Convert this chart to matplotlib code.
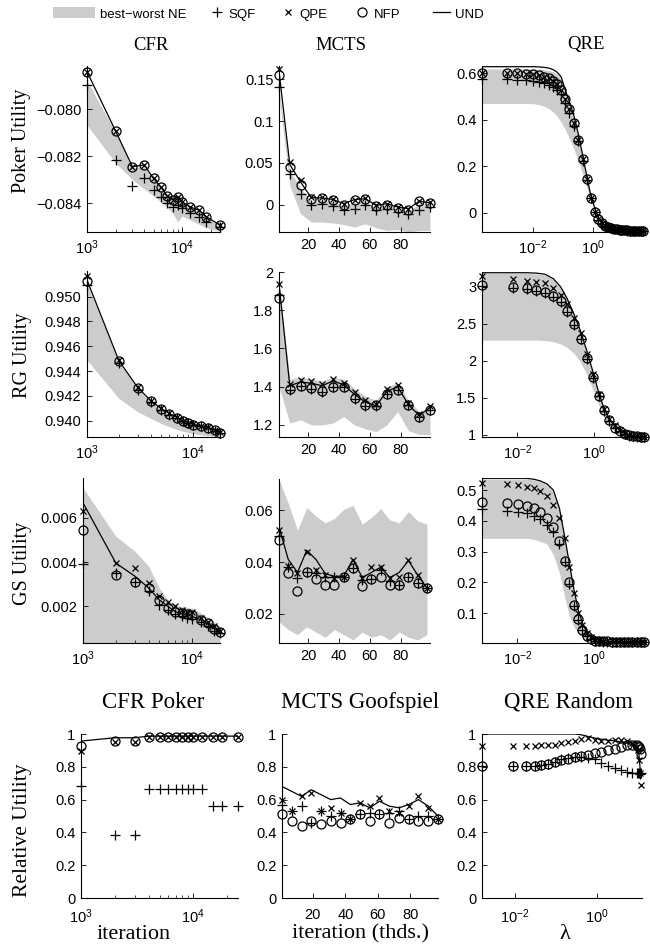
import matplotlib
matplotlib.use("Agg")
import matplotlib.pyplot as plt
from matplotlib.patches import Patch
from matplotlib.lines import Line2D
from matplotlib.ticker import FixedLocator, LogLocator, NullLocator, NullFormatter

plt.rcParams['font.family'] = ['Liberation Sans', 'DejaVu Sans']
plt.rcParams['mathtext.default'] = 'regular'

# ---------------- data ----------------
# CFR iterations
cfr_poker_iters = [1000, 2000, 3000, 4000, 5000, 6000, 7000, 8000, 9000, 10000, 12000, 15000, 18000, 25000]
cfr_other_iters = [1000, 2000, 3000, 4000, 5000, 6000, 7000, 8000, 9000, 10000, 12000, 14000, 16000, 18000]
# MCTS iterations (thousands)
mcts_iters_a = [1, 8, 15, 22, 29, 36, 43, 50, 57, 64, 71, 78, 85, 92, 99]
mcts_iters_b = [1, 7, 13, 19, 25, 31, 37, 43, 49, 55, 61, 67, 73, 79, 85, 91, 97]
# QRE lambdas
qre_lam_poker = [0.0002, 0.00135, 0.00295, 0.00575, 0.01, 0.0158, 0.0234, 0.0331, 0.0468, 0.0631,
                 0.0851, 0.115, 0.158, 0.229, 0.316, 0.437, 0.603, 0.813, 1.15, 1.48, 1.91, 2.4,
                 3.02, 3.8, 4.79, 6.03, 7.41, 9.12, 11.0, 13.5, 16.6, 20.4, 25.1, 30.9, 38.0, 45.7]
qre_lam_rg = [0.00123, 0.0079, 0.0174, 0.0316, 0.0525, 0.0871, 0.135, 0.2, 0.302, 0.447, 0.676,
              0.955, 1.35, 1.82, 2.51, 3.55, 4.79, 6.31, 8.32, 10.7, 13.5, 17.0, 20.4]
qre_lam_gs = [0.00123, 0.0055, 0.0107, 0.0174, 0.0269, 0.0389, 0.0589, 0.0871, 0.126, 0.174, 0.229,
              0.302, 0.389, 0.501, 0.646, 0.813, 1.07, 1.38, 1.74, 2.24, 2.88, 3.72, 4.79, 6.03,
              7.94, 10.0, 12.9, 16.6, 20.4]
qre_lam_rand = [0.0016, 0.0091, 0.019, 0.031, 0.045, 0.065, 0.095, 0.138, 0.2, 0.295, 0.427, 0.617,
                0.91, 1.32, 1.95, 2.82, 4.07, 5.5, 7.2, 9.5, 10.5, 11.0, 11.5, 12.0]

# Row 1: Poker utility, CFR
cfr_poker_und = [-0.07841, -0.08094, -0.08245, -0.08238, -0.08295, -0.08333, -0.08369, -0.08385, -0.08373, -0.08394, -0.08416, -0.08430, -0.08458, -0.08494]
cfr_poker_qpe = [-0.07841, -0.08094, -0.08245, -0.08238, -0.08295, -0.08333, -0.08369, -0.08385, -0.08373, -0.08394, -0.08416, -0.08430, -0.08458, -0.08494]
cfr_poker_nfp = [-0.07841, -0.08094, -0.08245, -0.08238, -0.08295, -0.08333, -0.08369, -0.08385, -0.08373, -0.08394, -0.08416, -0.08430, -0.08458, -0.08494]
cfr_poker_sqf = [-0.07898, -0.08217, -0.08328, -0.08295, -0.08345, -0.08373, -0.08400, -0.08416, -0.08408, -0.08421, -0.08443, -0.08458, -0.08480, -0.08501]
cfr_poker_best = [-0.07880, -0.08100, -0.08250, -0.08245, -0.08300, -0.08338, -0.08372, -0.08390, -0.08378, -0.08398, -0.08420, -0.08434, -0.08462, -0.08497]
cfr_poker_worst = [-0.08068, -0.08230, -0.08300, -0.08340, -0.08370, -0.08395, -0.08420, -0.08445, -0.08480, -0.08455, -0.08470, -0.08490, -0.08505, -0.08520]

# Row 1: Poker utility, MCTS
mcts_poker_und = [0.160, 0.048, 0.027, 0.008, 0.008, 0.006, 0.001, 0.006, 0.007, -0.001, 0.001, -0.003, -0.005, 0.004, 0.002]
mcts_poker_qpe = [0.163, 0.051, 0.029, 0.009, 0.009, 0.007, 0.001, 0.006, 0.008, -0.001, 0.001, -0.003, -0.005, 0.004, 0.003]
mcts_poker_nfp = [0.155, 0.045, 0.024, 0.007, 0.008, 0.006, 0.000, 0.006, 0.007, -0.002, 0.000, -0.004, -0.006, 0.004, 0.002]
mcts_poker_sqf = [0.141, 0.037, 0.013, 0.000, 0.001, -0.002, -0.006, -0.005, -0.001, -0.006, -0.005, -0.009, -0.011, -0.006, -0.003]
mcts_poker_best = [0.140, 0.040, 0.020, 0.004, 0.005, 0.003, -0.002, 0.003, 0.004, -0.004, -0.002, -0.006, -0.008, 0.001, 0.000]
mcts_poker_worst = [0.130, 0.023, -0.011, -0.021, -0.021, -0.022, -0.024, -0.027, -0.023, -0.028, -0.031, -0.030, -0.033, -0.031, -0.031]

# Row 1: Poker utility, QRE
qre_poker_und = [0.628, 0.628, 0.628, 0.628, 0.628, 0.627, 0.625, 0.622, 0.615, 0.604, 0.585, 0.530, 0.480, 0.415, 0.340, 0.250, 0.160, 0.078, 0.015, -0.020, -0.040, -0.051, -0.058, -0.063, -0.067, -0.069, -0.071, -0.073, -0.075, -0.076, -0.077, -0.078, -0.079, -0.079, -0.080, -0.080]
qre_poker_qpe = [0.602, 0.602, 0.600, 0.598, 0.595, 0.591, 0.585, 0.578, 0.567, 0.552, 0.530, 0.490, 0.445, 0.385, 0.315, 0.230, 0.145, 0.065, 0.005, -0.028, -0.045, -0.055, -0.061, -0.065, -0.068, -0.070, -0.072, -0.073, -0.074, -0.075, -0.076, -0.077, -0.077, -0.078, -0.078, -0.078]
qre_poker_nfp = [0.602, 0.602, 0.600, 0.598, 0.595, 0.591, 0.585, 0.578, 0.567, 0.552, 0.530, 0.490, 0.445, 0.385, 0.315, 0.230, 0.145, 0.065, 0.005, -0.028, -0.045, -0.055, -0.061, -0.065, -0.068, -0.070, -0.072, -0.073, -0.074, -0.075, -0.076, -0.077, -0.077, -0.078, -0.078, -0.078]
qre_poker_sqf = [0.575, 0.575, 0.572, 0.570, 0.566, 0.562, 0.556, 0.550, 0.540, 0.528, 0.510, 0.472, 0.428, 0.372, 0.308, 0.225, 0.142, 0.062, 0.003, -0.029, -0.046, -0.056, -0.062, -0.066, -0.069, -0.071, -0.073, -0.074, -0.075, -0.076, -0.077, -0.077, -0.078, -0.078, -0.079, -0.079]
qre_poker_best = [0.618, 0.618, 0.618, 0.618, 0.618, 0.617, 0.615, 0.612, 0.606, 0.596, 0.578, 0.525, 0.475, 0.410, 0.335, 0.245, 0.155, 0.075, 0.012, -0.022, -0.041, -0.052, -0.059, -0.064, -0.068, -0.070, -0.072, -0.074, -0.075, -0.076, -0.077, -0.078, -0.079, -0.079, -0.080, -0.080]
qre_poker_worst = [0.470, 0.470, 0.470, 0.470, 0.469, 0.465, 0.458, 0.448, 0.433, 0.415, 0.390, 0.360, 0.322, 0.272, 0.222, 0.168, 0.110, 0.055, 0.003, -0.030, -0.052, -0.065, -0.072, -0.076, -0.078, -0.079, -0.080, -0.080, -0.081, -0.081, -0.081, -0.081, -0.081, -0.081, -0.081, -0.081]

# Row 2: RG utility, CFR
cfr_rg_und = [0.95134, 0.94484, 0.94269, 0.94161, 0.94099, 0.94059, 0.94027, 0.94000, 0.93984, 0.93970, 0.93960, 0.93945, 0.93925, 0.93905]
cfr_rg_qpe = [0.95167, 0.94490, 0.94272, 0.94163, 0.94100, 0.94060, 0.94028, 0.94001, 0.93985, 0.93971, 0.93960, 0.93946, 0.93926, 0.93906]
cfr_rg_nfp = [0.95125, 0.94478, 0.94265, 0.94158, 0.94096, 0.94056, 0.94025, 0.93998, 0.93982, 0.93968, 0.93958, 0.93944, 0.93924, 0.93904]
cfr_rg_sqf = [0.95094, 0.94462, 0.94250, 0.94148, 0.94090, 0.94050, 0.94020, 0.93994, 0.93978, 0.93965, 0.93955, 0.93941, 0.93921, 0.93901]
cfr_rg_best = [0.95108, 0.94470, 0.94258, 0.94152, 0.94092, 0.94052, 0.94021, 0.93995, 0.93979, 0.93966, 0.93956, 0.93942, 0.93922, 0.93902]
cfr_rg_worst = [0.94489, 0.94180, 0.94073, 0.94019, 0.93978, 0.93952, 0.93930, 0.93915, 0.93905, 0.93895, 0.93885, 0.93878, 0.93874, 0.93870]

# Row 2: RG utility, MCTS
mcts_rg_und = [1.940, 1.405, 1.425, 1.418, 1.405, 1.430, 1.410, 1.360, 1.320, 1.300, 1.375, 1.400, 1.305, 1.250, 1.290]
mcts_rg_qpe = [1.939, 1.414, 1.436, 1.428, 1.415, 1.440, 1.419, 1.370, 1.328, 1.310, 1.387, 1.410, 1.314, 1.258, 1.300]
mcts_rg_nfp = [1.864, 1.387, 1.405, 1.393, 1.375, 1.401, 1.401, 1.340, 1.305, 1.305, 1.363, 1.384, 1.305, 1.244, 1.279]
mcts_rg_sqf = [1.880, 1.385, 1.403, 1.390, 1.372, 1.398, 1.400, 1.338, 1.300, 1.300, 1.360, 1.382, 1.302, 1.240, 1.276]
mcts_rg_best = [1.940, 1.440, 1.450, 1.440, 1.430, 1.450, 1.440, 1.390, 1.350, 1.330, 1.400, 1.420, 1.330, 1.270, 1.290]
mcts_rg_worst = [1.400, 1.210, 1.227, 1.200, 1.200, 1.210, 1.244, 1.200, 1.180, 1.165, 1.200, 1.270, 1.170, 1.150, 1.150]

# Row 2: RG utility, QRE
qre_rg_und = [3.19, 3.19, 3.19, 3.185, 3.17, 3.11, 3.00, 2.84, 2.63, 2.40, 2.11, 1.84, 1.56, 1.36, 1.22, 1.12, 1.06, 1.03, 1.00, 0.99, 0.98, 0.975, 0.97]
qre_rg_qpe = [3.14, 3.10, 3.08, 3.07, 3.05, 2.99, 2.89, 2.77, 2.58, 2.37, 2.09, 1.83, 1.55, 1.35, 1.22, 1.13, 1.07, 1.03, 1.00, 0.99, 0.985, 0.98, 0.975]
qre_rg_nfp = [3.02, 3.00, 2.98, 2.96, 2.93, 2.87, 2.81, 2.67, 2.50, 2.30, 2.04, 1.78, 1.53, 1.34, 1.20, 1.10, 1.05, 1.02, 0.995, 0.985, 0.98, 0.975, 0.97]
qre_rg_sqf = [3.01, 2.99, 2.97, 2.95, 2.92, 2.86, 2.80, 2.66, 2.49, 2.29, 2.03, 1.77, 1.52, 1.33, 1.19, 1.10, 1.05, 1.02, 0.99, 0.98, 0.975, 0.97, 0.97]
qre_rg_best = [3.18, 3.18, 3.18, 3.175, 3.16, 3.10, 2.99, 2.83, 2.62, 2.39, 2.10, 1.83, 1.55, 1.35, 1.21, 1.11, 1.05, 1.02, 0.99, 0.985, 0.978, 0.973, 0.97]
qre_rg_worst = [2.28, 2.28, 2.28, 2.28, 2.275, 2.26, 2.23, 2.18, 2.10, 1.98, 1.80, 1.60, 1.40, 1.24, 1.12, 1.04, 1.00, 0.98, 0.975, 0.972, 0.97, 0.97, 0.97]

# Row 3: GS utility, CFR
cfr_gs_und = [0.00668, 0.00396, 0.00336, 0.00283, 0.00230, 0.00200, 0.00177, 0.00167, 0.00162, 0.00155, 0.00140, 0.00120, 0.00100, 0.00085]
cfr_gs_qpe = [0.00630, 0.00396, 0.00374, 0.00306, 0.00245, 0.00218, 0.00200, 0.00185, 0.00177, 0.00173, 0.00150, 0.00130, 0.00110, 0.00090]
cfr_gs_nfp = [0.00547, 0.00343, 0.00309, 0.00283, 0.00230, 0.00192, 0.00173, 0.00170, 0.00167, 0.00162, 0.00140, 0.00125, 0.00100, 0.00085]
cfr_gs_sqf = [0.00393, 0.00351, 0.00309, 0.00268, 0.00208, 0.00182, 0.00167, 0.00155, 0.00147, 0.00143, 0.00130, 0.00110, 0.00090, 0.00080]
cfr_gs_best = [0.00736, 0.00517, 0.00449, 0.00381, 0.00283, 0.00230, 0.00208, 0.00200, 0.00196, 0.00192, 0.00170, 0.00150, 0.00130, 0.00110]
cfr_gs_worst = [0.00035, 0.00035, 0.00035, 0.00035, 0.00035, 0.00035, 0.00035, 0.00035, 0.00035, 0.00035, 0.00035, 0.00035, 0.00035, 0.00035]

# Row 3: GS utility, MCTS
mcts_gs_und = [0.0535, 0.0410, 0.0360, 0.0445, 0.0410, 0.0355, 0.0345, 0.0345, 0.0410, 0.0340, 0.0360, 0.0380, 0.0340, 0.0360, 0.0405, 0.0350, 0.0300]
mcts_gs_qpe = [0.0523, 0.0385, 0.0359, 0.0440, 0.0369, 0.0350, 0.0337, 0.0344, 0.0408, 0.0337, 0.0382, 0.0379, 0.0337, 0.0344, 0.0408, 0.0350, 0.0300]
mcts_gs_nfp = [0.0485, 0.0356, 0.0288, 0.0363, 0.0333, 0.0312, 0.0312, 0.0344, 0.0376, 0.0308, 0.0335, 0.0341, 0.0312, 0.0312, 0.0344, 0.0318, 0.0299]
mcts_gs_sqf = [0.0500, 0.0382, 0.0337, 0.0363, 0.0356, 0.0344, 0.0344, 0.0344, 0.0376, 0.0330, 0.0335, 0.0370, 0.0325, 0.0312, 0.0344, 0.0318, 0.0299]
mcts_gs_best = [0.0718, 0.0626, 0.0523, 0.0610, 0.0577, 0.0551, 0.0568, 0.0603, 0.0619, 0.0546, 0.0572, 0.0606, 0.0562, 0.0551, 0.0594, 0.0559, 0.0546]
mcts_gs_worst = [0.017, 0.014, 0.012, 0.015, 0.013, 0.011, 0.014, 0.012, 0.010, 0.013, 0.011, 0.012, 0.010, 0.013, 0.011, 0.010, 0.012]

# Row 3: GS utility, QRE
qre_gs_und = [0.538, 0.538, 0.538, 0.538, 0.535, 0.530, 0.520, 0.500, 0.440, 0.345, 0.260, 0.175, 0.110, 0.068, 0.040, 0.024, 0.016, 0.012, 0.010, 0.009, 0.008, 0.008, 0.007, 0.007, 0.007, 0.007, 0.007, 0.007, 0.007]
qre_gs_qpe = [0.522, 0.519, 0.516, 0.511, 0.505, 0.498, 0.481, 0.451, 0.408, 0.343, 0.251, 0.165, 0.100, 0.062, 0.035, 0.022, 0.015, 0.012, 0.010, 0.009, 0.008, 0.008, 0.008, 0.007, 0.007, 0.007, 0.007, 0.007, 0.007]
qre_gs_nfp = [0.462, 0.459, 0.455, 0.448, 0.441, 0.430, 0.410, 0.381, 0.335, 0.270, 0.200, 0.127, 0.080, 0.045, 0.026, 0.016, 0.011, 0.009, 0.008, 0.008, 0.007, 0.007, 0.007, 0.007, 0.007, 0.007, 0.007, 0.007, 0.007]
qre_gs_sqf = [0.437, 0.433, 0.430, 0.424, 0.416, 0.405, 0.386, 0.365, 0.325, 0.265, 0.195, 0.124, 0.078, 0.044, 0.025, 0.015, 0.010, 0.008, 0.007, 0.007, 0.007, 0.007, 0.007, 0.007, 0.007, 0.007, 0.007, 0.007, 0.007]
qre_gs_best = [0.536, 0.536, 0.536, 0.536, 0.533, 0.528, 0.517, 0.496, 0.435, 0.340, 0.255, 0.170, 0.107, 0.066, 0.039, 0.023, 0.015, 0.011, 0.009, 0.008, 0.007, 0.007, 0.006, 0.006, 0.006, 0.006, 0.006, 0.006, 0.006]
qre_gs_worst = [0.343, 0.343, 0.343, 0.343, 0.340, 0.333, 0.325, 0.290, 0.230, 0.150, 0.090, 0.055, 0.035, 0.020, 0.012, 0.008, 0.006, 0.005, 0.005, 0.005, 0.005, 0.005, 0.005, 0.005, 0.005, 0.005, 0.005, 0.005, 0.005]

# Row 4: relative utility
rel_cfr_und = [0.957, 0.977, 0.977, 0.987, 0.987, 0.987, 0.987, 0.987, 0.987, 0.987, 0.987, 0.987, 0.987, 0.987]
rel_cfr_qpe = [0.896, 0.950, 0.950, 0.980, 0.980, 0.980, 0.980, 0.980, 0.980, 0.980, 0.980, 0.980, 0.980, 0.980]
rel_cfr_nfp = [0.925, 0.960, 0.960, 0.980, 0.980, 0.980, 0.980, 0.980, 0.980, 0.980, 0.980, 0.980, 0.980, 0.980]
rel_cfr_sqf = [0.683, 0.384, 0.384, 0.665, 0.665, 0.665, 0.665, 0.665, 0.665, 0.665, 0.665, 0.563, 0.563, 0.563]

rel_mcts_und = [0.68, 0.65, 0.62, 0.66, 0.63, 0.60, 0.61, 0.57, 0.58, 0.55, 0.59, 0.56, 0.55, 0.57, 0.60, 0.56, 0.50]
rel_mcts_qpe = [0.60, 0.53, 0.62, 0.64, 0.53, 0.55, 0.52, 0.48, 0.58, 0.56, 0.61, 0.53, 0.52, 0.56, 0.62, 0.55, 0.48]
rel_mcts_nfp = [0.51, 0.47, 0.44, 0.47, 0.45, 0.47, 0.46, 0.48, 0.51, 0.47, 0.51, 0.46, 0.49, 0.48, 0.47, 0.47, 0.48]
rel_mcts_sqf = [0.57, 0.53, 0.56, 0.46, 0.53, 0.50, 0.52, 0.48, 0.51, 0.52, 0.51, 0.52, 0.53, 0.48, 0.50, 0.50, 0.48]

rel_qre_und = [1.0, 1.0, 1.0, 1.0, 1.0, 1.0, 1.0, 1.0, 1.0, 1.0, 0.995, 0.985, 0.975, 0.968, 0.962, 0.958, 0.952, 0.945, 0.935, 0.920, 0.900, 0.860, 0.800, 0.760]
rel_qre_qpe = [0.929, 0.929, 0.929, 0.929, 0.930, 0.932, 0.935, 0.943, 0.950, 0.960, 0.967, 0.975, 0.965, 0.960, 0.960, 0.963, 0.963, 0.955, 0.945, 0.920, 0.900, 0.840, 0.760, 0.690]
rel_qre_nfp = [0.807, 0.807, 0.807, 0.807, 0.811, 0.819, 0.827, 0.839, 0.850, 0.860, 0.868, 0.874, 0.884, 0.890, 0.900, 0.910, 0.920, 0.930, 0.933, 0.930, 0.925, 0.920, 0.910, 0.880]
rel_qre_sqf = [0.807, 0.807, 0.807, 0.807, 0.811, 0.819, 0.832, 0.845, 0.855, 0.862, 0.862, 0.855, 0.845, 0.825, 0.805, 0.790, 0.780, 0.770, 0.765, 0.760, 0.760, 0.760, 0.755, 0.760]

legend_labels = ['best\u2212worst NE', 'SQF', 'QPE', 'NFP', 'UND']
col_titles = ['CFR', 'MCTS', 'QRE']
row_labels = ['Poker Utility', 'RG Utility', 'GS Utility']
bottom_titles = ['CFR Poker', 'MCTS Goofspiel', 'QRE Random']
bottom_xlabels = ['iteration', 'iteration (thds.)', '\u03bb']

# ---------------- drawing ----------------
GRAY = '#cccccc'
W, H = 650, 947
fig = plt.figure(figsize=(W / 100, H / 100), dpi=100)
SERIF = ['Liberation Serif', 'DejaVu Serif']


def add_ax(x0, ytop, x1, ybot):
    return fig.add_axes([x0 / W, 1 - ybot / H, (x1 - x0) / W, (ybot - ytop) / H])


def style(ax, xpad=4.5):
    ax.spines['top'].set_visible(False)
    ax.spines['right'].set_visible(False)
    for s in ('left', 'bottom'):
        ax.spines[s].set_linewidth(0.8)
        ax.spines[s].set_zorder(5)
    ax.tick_params(which='major', direction='in', length=3.5, width=0.6, labelsize=10.5, pad=4)
    ax.tick_params(axis='x', which='major', pad=xpad)
    ax.tick_params(which='minor', direction='in', length=2, width=0.5)
    ax.patch.set_alpha(0)


def draw(ax, x, und, sqf, qpe, nfp, best=None, worst=None):
    if best is not None:
        ax.fill_between(x, worst, best, color=GRAY, lw=0, zorder=1)
    ax.plot(x, und, '-', color='k', lw=0.9, zorder=3)
    ax.plot(x, sqf, ls='none', marker='+', ms=7, mew=0.9, color='k', zorder=4, clip_on=False)
    ax.plot(x, qpe, ls='none', marker='x', ms=5, mew=0.9, color='k', zorder=4, clip_on=False)
    ax.plot(x, nfp, ls='none', marker='o', ms=6.5, mew=0.9, mfc='none', mec='k', zorder=4, clip_on=False)


def cfr_x(ax, xmax):
    ax.set_xscale('log')
    ax.set_xlim(1000, xmax)
    ax.xaxis.set_major_locator(FixedLocator([1e3, 1e4]))
    ax.xaxis.set_minor_locator(LogLocator(base=10, subs=(2, 3, 4, 5, 6, 7, 8, 9)))
    ax.xaxis.set_minor_formatter(NullFormatter())


def qre_x(ax, xmin, xmax):
    ax.set_xscale('log')
    ax.set_xlim(xmin, xmax)
    ax.xaxis.set_major_locator(FixedLocator([1e-2, 1e0]))
    ax.xaxis.set_minor_locator(NullLocator())


def mcts_x(ax, xmin, xmax):
    ax.set_xlim(xmin, xmax)
    ax.set_xticks([20, 40, 60, 80])
    ax.set_xticklabels(['20', '40', '60', '80'])


def yt(ax, ticks, labels, lim):
    ax.set_ylim(*lim)
    ax.set_yticks(ticks)
    ax.set_yticklabels(labels)


# Row 1
ax = add_ax(87, 66, 220, 232); style(ax)
draw(ax, cfr_poker_iters, cfr_poker_und, cfr_poker_sqf, cfr_poker_qpe, cfr_poker_nfp, cfr_poker_best, cfr_poker_worst)
cfr_x(ax, 25000)
yt(ax, [-0.084, -0.082, -0.080], ['\u22120.084', '\u22120.082', '\u22120.080'], (-0.08523, -0.07817))

ax = add_ax(279, 66, 430, 232); style(ax)
draw(ax, mcts_iters_a, mcts_poker_und, mcts_poker_sqf, mcts_poker_qpe, mcts_poker_nfp, mcts_poker_best, mcts_poker_worst)
mcts_x(ax, 1, 99)
yt(ax, [0, 0.05, 0.1, 0.15], ['0', '0.05', '0.1', '0.15'], (-0.0329, 0.166))

ax = add_ax(482, 66, 645, 232); style(ax)
draw(ax, qre_lam_poker, qre_poker_und, qre_poker_sqf, qre_poker_qpe, qre_poker_nfp, qre_poker_best, qre_poker_worst)
qre_x(ax, 0.0002, 52)
yt(ax, [0, 0.2, 0.4, 0.6], ['0', '0.2', '0.4', '0.6'], (-0.082, 0.631))

# Row 2
ax = add_ax(87, 271, 220, 437); style(ax)
draw(ax, cfr_other_iters, cfr_rg_und, cfr_rg_sqf, cfr_rg_qpe, cfr_rg_nfp, cfr_rg_best, cfr_rg_worst)
cfr_x(ax, 18000)
yt(ax, [0.940, 0.942, 0.944, 0.946, 0.948, 0.950],
   ['0.940', '0.942', '0.944', '0.946', '0.948', '0.950'], (0.93869, 0.95207))

ax = add_ax(279, 272, 430, 437); style(ax)
draw(ax, mcts_iters_a, mcts_rg_und, mcts_rg_sqf, mcts_rg_qpe, mcts_rg_nfp, mcts_rg_best, mcts_rg_worst)
mcts_x(ax, 1, 99)
yt(ax, [1.2, 1.4, 1.6, 1.8, 2.0], ['1.2', '1.4', '1.6', '1.8', '2'], (1.137, 2.0))

ax = add_ax(482, 272, 645, 437); style(ax)
draw(ax, qre_lam_rg, qre_rg_und, qre_rg_sqf, qre_rg_qpe, qre_rg_nfp, qre_rg_best, qre_rg_worst)
qre_x(ax, 0.0012, 21.4)
yt(ax, [1, 1.5, 2, 2.5, 3], ['1', '1.5', '2', '2.5', '3'], (0.973, 3.2))

# Row 3
ax = add_ax(83, 478, 220, 643); style(ax)
draw(ax, cfr_other_iters, cfr_gs_und, cfr_gs_sqf, cfr_gs_qpe, cfr_gs_nfp, cfr_gs_best, cfr_gs_worst)
cfr_x(ax, 18000)
yt(ax, [0.002, 0.004, 0.006], ['0.002', '0.004', '0.006'], (0.00035, 0.0078))

ax = add_ax(279, 479, 430, 643); style(ax)
draw(ax, mcts_iters_b, mcts_gs_und, mcts_gs_sqf, mcts_gs_qpe, mcts_gs_nfp, mcts_gs_best, mcts_gs_worst)
mcts_x(ax, 1, 99)
yt(ax, [0.02, 0.04, 0.06], ['0.02', '0.04', '0.06'], (0.0088, 0.072))

ax = add_ax(482, 478, 645, 643); style(ax)
draw(ax, qre_lam_gs, qre_gs_und, qre_gs_sqf, qre_gs_qpe, qre_gs_nfp, qre_gs_best, qre_gs_worst)
qre_x(ax, 0.0012, 21.4)
yt(ax, [0.1, 0.2, 0.3, 0.4, 0.5], ['0.1', '0.2', '0.3', '0.4', '0.5'], (0.003, 0.539))

# Row 4
rel_ticks = [0, 0.2, 0.4, 0.6, 0.8, 1.0]
rel_labels = ['0', '0.2', '0.4', '0.6', '0.8', '1']
ax = add_ax(81, 734, 238, 898); style(ax, xpad=7)
draw(ax, cfr_poker_iters, rel_cfr_und, rel_cfr_sqf, rel_cfr_qpe, rel_cfr_nfp)
cfr_x(ax, 25000)
yt(ax, rel_ticks, rel_labels, (0, 1))

ax = add_ax(282, 734, 438, 898); style(ax, xpad=7)
draw(ax, mcts_iters_b, rel_mcts_und, rel_mcts_sqf, rel_mcts_qpe, rel_mcts_nfp)
mcts_x(ax, 1, 97)
yt(ax, rel_ticks, rel_labels, (0, 1))

ax = add_ax(482, 734, 642, 898); style(ax, xpad=7)
draw(ax, qre_lam_rand, rel_qre_und, rel_qre_sqf, rel_qre_qpe, rel_qre_nfp)
qre_x(ax, 0.0016, 12.9)
yt(ax, rel_ticks, rel_labels, (0, 1))

# titles and labels
for t, xc in zip(col_titles, [151, 341, 586]):
    fig.text(xc / W, 1 - 45 / H, t, ha='center', va='center', fontsize=13.5, family=SERIF)
for t, yc in zip(row_labels, [141, 355, 563]):
    fig.text(22 / W, 1 - yc / H, t, ha='center', va='center', rotation=90, fontsize=14.5, family=SERIF)
fig.text(23 / W, 1 - 830 / H, 'Relative Utility', ha='center', va='center', rotation=90, fontsize=15.5, family=SERIF)
for t, xc in zip(bottom_titles, [153, 360, 568]):
    fig.text(xc / W, 1 - 702 / H, t, ha='center', va='center', fontsize=16.5, family=SERIF)
for t, xc in zip(bottom_xlabels, [134, 361, 565]):
    fig.text(xc / W, 1 - 934 / H, t, ha='center', va='center', fontsize=16, family=SERIF)

# legend
handles = [
    Patch(facecolor=GRAY, edgecolor='none'),
    Line2D([], [], ls='none', marker='+', ms=7, mew=0.9, color='k'),
    Line2D([], [], ls='none', marker='x', ms=5, mew=0.9, color='k'),
    Line2D([], [], ls='none', marker='o', ms=6.5, mew=0.9, mfc='none', mec='k'),
    Line2D([], [], ls='-', lw=0.9, color='k'),
]
starts = [53, 210, 281, 355, 433]
hlens = [3.2, 1.0, 1.0, 1.0, 1.3]
for h, lab, xs, hl in zip(handles, legend_labels, starts, hlens):
    fig.legend([h], [lab], loc='center left', bbox_to_anchor=(xs / W, 1 - 14 / H), frameon=False,
               borderpad=0, borderaxespad=0, handlelength=hl, handleheight=0.9, handletextpad=0.4,
               fontsize=9.5)

fig.savefig('out.png', dpi=100)
